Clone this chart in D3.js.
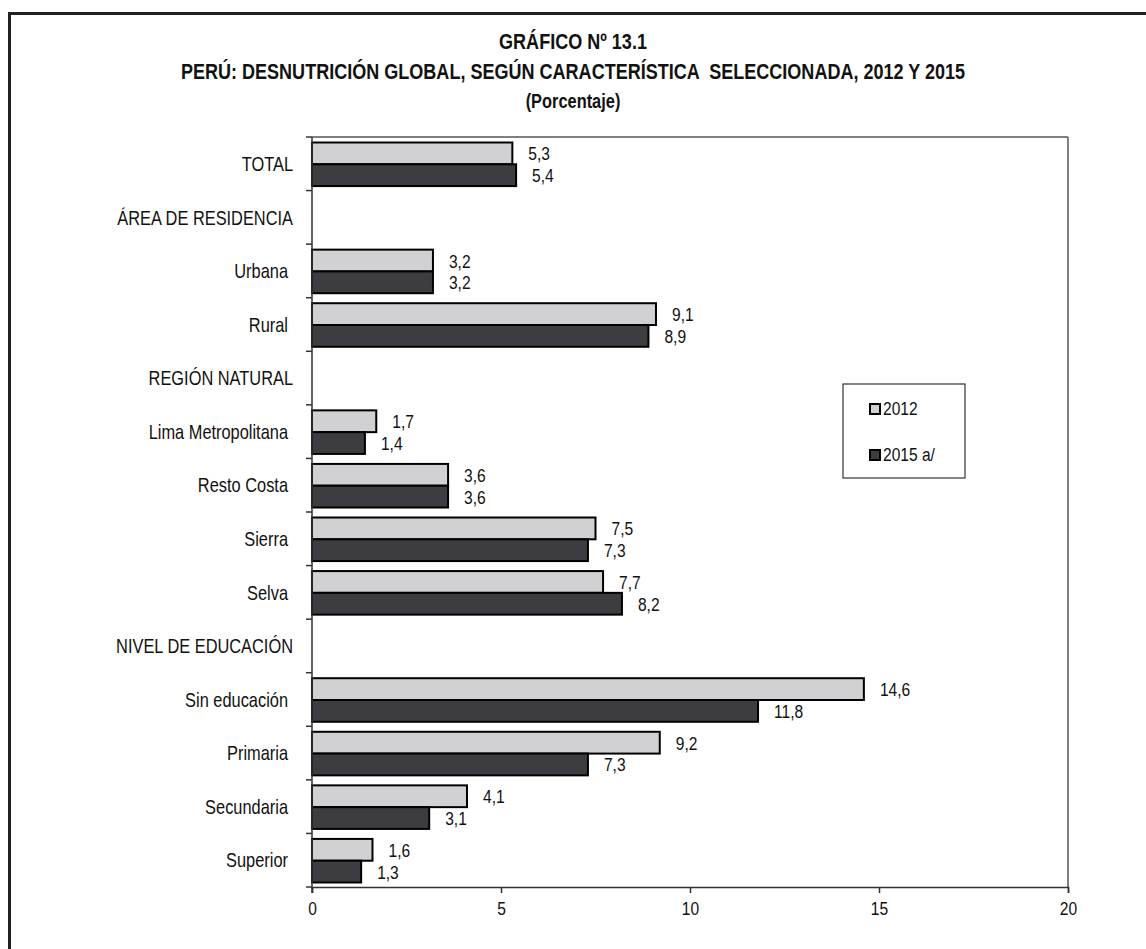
<!DOCTYPE html>
<html><head><meta charset="utf-8">
<script src="https://cdn.jsdelivr.net/npm/d3@7"></script>
<style>
html,body{margin:0;padding:0;background:#fff;}
svg{display:block;}
text{font-family:'Liberation Sans',Arial,sans-serif;fill:#111;}
</style></head>
<body>
<script>
const categories = ["TOTAL","ÁREA DE RESIDENCIA","Urbana","Rural","REGIÓN NATURAL","Lima Metropolitana","Resto Costa","Sierra","Selva","NIVEL DE EDUCACIÓN","Sin educación","Primaria","Secundaria","Superior"];
const groupHeaders = ["TOTAL","ÁREA DE RESIDENCIA","REGIÓN NATURAL","NIVEL DE EDUCACIÓN"];
const seriesNames = ["2012","2015 a/"];
const values2012 = [5.3,null,3.2,9.1,null,1.7,3.6,7.5,7.7,null,14.6,9.2,4.1,1.6];
const values2015 = [5.4,null,3.2,8.9,null,1.4,3.6,7.3,8.2,null,11.8,7.3,3.1,1.3];
const xTicks = [0,5,10,15,20];
const titleLines = ["GRÁFICO Nº 13.1","PERÚ: DESNUTRICIÓN GLOBAL, SEGÚN CARACTERÍSTICA  SELECCIONADA, 2012 Y 2015","(Porcentaje)"];
const colors = ["#d1d1d3","#3d3d41"];

(function(){
const W = 1146, H = 949, NX = 0.82;
const svg = d3.select("body").append("svg").attr("width",W).attr("height",H);
const tr = (x,y)=>`translate(${x},${y}) scale(${NX},1)`;

// outer frame
svg.append("line").attr("x1",8).attr("x2",W).attr("y1",13.5).attr("y2",13.5).attr("stroke","#222").attr("stroke-width",3);
svg.append("line").attr("x1",9.5).attr("x2",9.5).attr("y1",12).attr("y2",H).attr("stroke","#222").attr("stroke-width",3);

// title
const titleY = [43,73,103];
const titleSize = [22,22,20];
titleLines.forEach((t,i)=>{
  svg.append("text").attr("transform",tr(573,titleY[i])).attr("text-anchor","middle")
    .attr("dominant-baseline","middle").attr("font-weight","bold").attr("font-size",titleSize[i])
    .style("white-space","pre").text(t);
});

const pLeft = 312, pRight = 1068, pTop = 137, pBottom = 887;
const x = d3.scaleLinear().domain([0,20]).range([pLeft,pRight]);
const y = d3.scaleBand().domain(categories).range([pTop,pBottom]).padding(0);
const sub = d3.scaleBand().domain(seriesNames).range([5.5, y.bandwidth()-4.5]).padding(0);

// plot frame (top & right)
svg.append("line").attr("x1",pLeft).attr("x2",pRight).attr("y1",pTop).attr("y2",pTop).attr("stroke","#555").attr("stroke-width",1.5);
svg.append("line").attr("x1",pRight).attr("x2",pRight).attr("y1",pTop).attr("y2",pBottom).attr("stroke","#555").attr("stroke-width",1.5);

// bars
const data = [];
categories.forEach((c,i)=>{
  [values2012[i],values2015[i]].forEach((v,j)=>{ if(v!==null) data.push({c, s:seriesNames[j], v, j}); });
});
svg.append("g").selectAll("rect").data(data).join("rect")
  .attr("x",x(0)).attr("y",d=>y(d.c)+sub(d.s))
  .attr("width",d=>x(d.v)-x(0)).attr("height",sub.bandwidth())
  .attr("fill",d=>colors[d.j]).attr("stroke","#000").attr("stroke-width",2);

svg.append("g").selectAll("text").data(data).join("text")
  .attr("transform",d=>tr(x(d.v)+16, y(d.c)+sub(d.s)+sub.bandwidth()/2+2))
  .attr("dominant-baseline","middle").attr("font-size",19)
  .text(d=>d3.format(".1f")(d.v).replace(".",","));

// left axis
const gy = svg.append("g");
gy.append("line").attr("x1",pLeft).attr("x2",pLeft).attr("y1",pTop).attr("y2",pBottom+6).attr("stroke","#333").attr("stroke-width",1.5);
const bounds = categories.map(c=>y(c)).concat([pBottom]);
gy.selectAll("line.t").data(bounds).join("line").attr("class","t")
  .attr("x1",pLeft-6).attr("x2",pLeft).attr("y1",d=>d).attr("y2",d=>d).attr("stroke","#333").attr("stroke-width",1.5);
gy.selectAll("text").data(categories).join("text")
  .attr("transform",d=>tr(groupHeaders.includes(d)?293:288, y(d)+y.bandwidth()/2+2))
  .attr("text-anchor","end").attr("dominant-baseline","middle").attr("font-size",20).text(d=>d);

// bottom axis
const gx = svg.append("g").attr("transform",`translate(0,${pBottom})`);
const ax = d3.axisBottom(x).tickValues(xTicks).tickSize(6).tickPadding(9).tickFormat(d3.format("d"));
gx.call(ax);
gx.select(".domain").attr("stroke","#333").attr("stroke-width",1.5);
gx.selectAll(".tick line").attr("stroke","#333").attr("stroke-width",1.5);
gx.selectAll(".tick text").attr("font-size",19).attr("font-family","'Liberation Sans',Arial,sans-serif")
  .attr("fill","#111").attr("transform",`scale(${NX},1)`);

// legend
const lg = svg.append("g");
lg.append("rect").attr("x",843).attr("y",384).attr("width",122).attr("height",94).attr("fill","#fff").attr("stroke","#333").attr("stroke-width",1.2);
const legY = [409,455];
seriesNames.forEach((s,i)=>{
  lg.append("rect").attr("x",870).attr("y",legY[i]-5).attr("width",10).attr("height",10)
    .attr("fill",colors[i]).attr("stroke","#000").attr("stroke-width",2);
  lg.append("text").attr("transform",tr(883,legY[i]+1)).attr("dominant-baseline","middle").attr("font-size",19).text(s);
});
})();
</script>
</body></html>
